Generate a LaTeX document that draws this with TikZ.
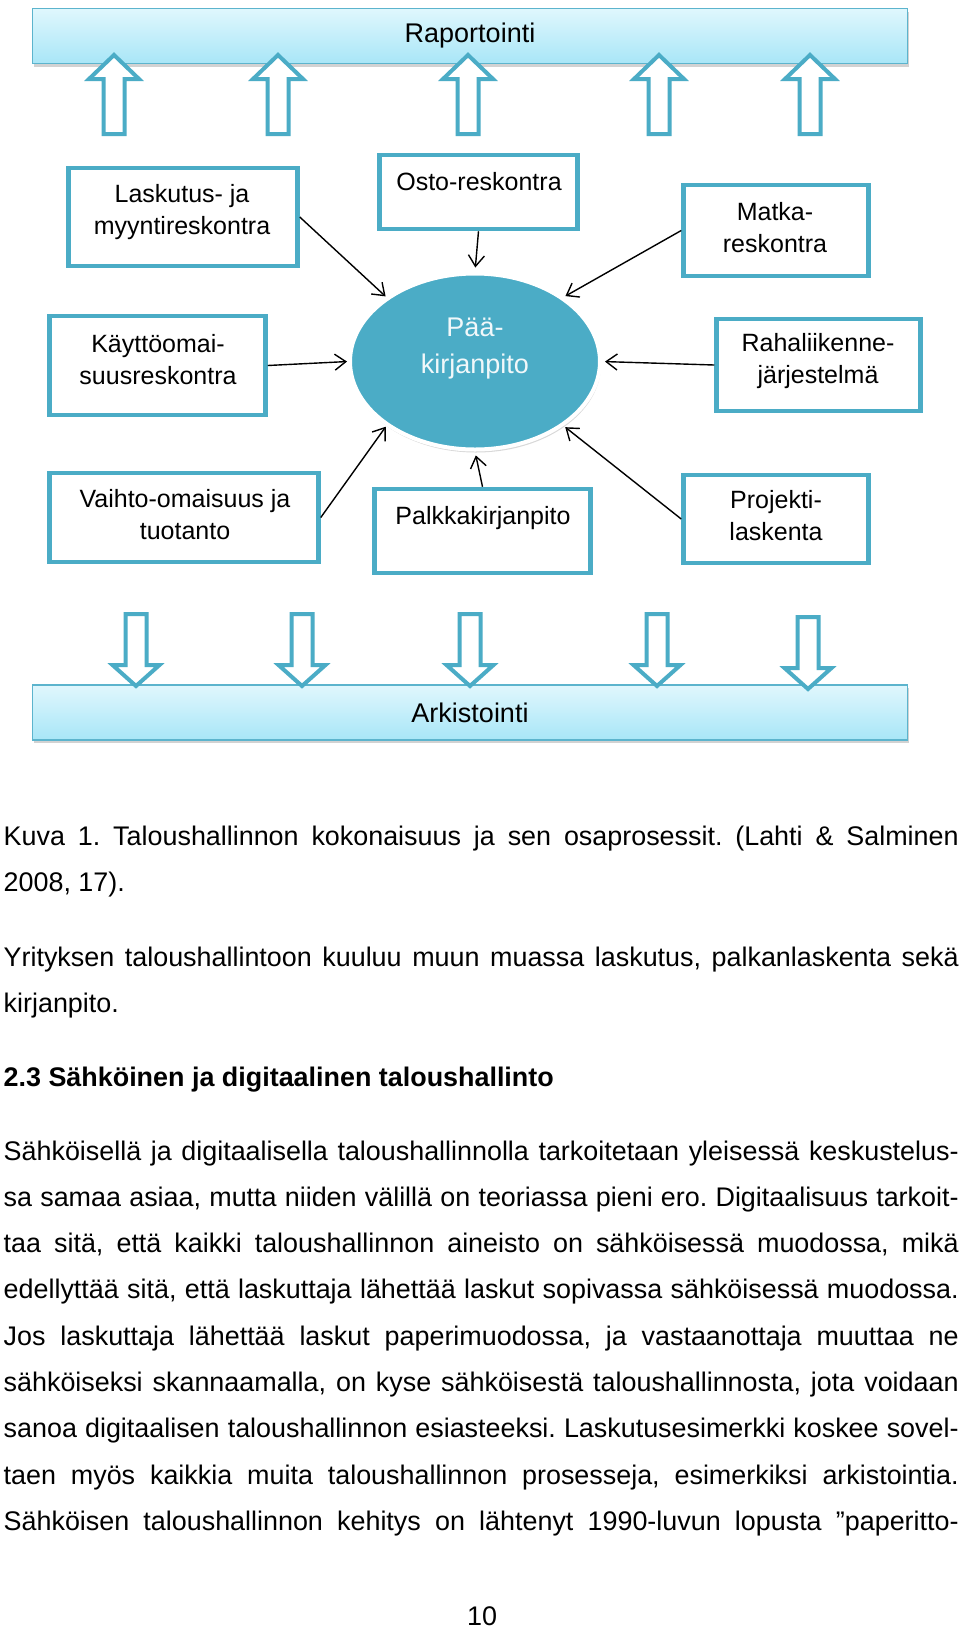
\documentclass[tikz,border=0pt]{standalone}
\usepackage{fontspec}
\setmainfont{Liberation Sans}
\usepackage{tikz}
\usetikzlibrary{shapes,arrows.meta,shadows,positioning}
\frenchspacing

\definecolor{aqua}{RGB}{75,172,198}
\definecolor{bartop}{RGB}{224,247,253}
\definecolor{barbot}{RGB}{168,230,247}
\definecolor{barline}{RGB}{92,180,205}

\begin{document}
\begin{tikzpicture}[x=1pt, y=-1pt, line width=1.4pt,
  >={Straight Barb[length=11pt,width=16pt]},
  box/.style={rectangle, draw=aqua, line width=4.5pt, fill=white},
  boxtext/.style={align=center, font=\fontsize{25}{32}\selectfont},
  bar/.style={rectangle, draw=barline, line width=1.2pt, top color=bartop,
    bottom color=barbot, minimum width=875pt, minimum height=55pt,
    drop shadow={opacity=0.35, shadow xshift=1pt, shadow yshift=-3pt},
    font=\fontsize{27}{32}\selectfont},
  blockarrow/.style={draw=aqua, line width=4pt, fill=white, line join=miter},
  body/.style={anchor=base west, inner sep=0pt, font=\fontsize{26.9}{46}\selectfont}]

\useasboundingbox (0,0) rectangle (960,1631);
\fill[white] (0,0) rectangle (960,1631);

% top and bottom bars
\node [bar] (raport) at (470,36) {Raportointi};
\node [bar] (arkist) at (470,712.5) {Arkistointi};

% arrows up to Raportointi
\draw [blockarrow] (103.5,134) -- ++(0,-55) -- ++(-14.5,0) -- ++(25,-24) -- ++(25,24) -- ++(-14.5,0) -- ++(0,55) -- cycle;
\draw [blockarrow] (267.5,134) -- ++(0,-55) -- ++(-14.5,0) -- ++(25,-24) -- ++(25,24) -- ++(-14.5,0) -- ++(0,55) -- cycle;
\draw [blockarrow] (457.5,134) -- ++(0,-55) -- ++(-14.5,0) -- ++(25,-24) -- ++(25,24) -- ++(-14.5,0) -- ++(0,55) -- cycle;
\draw [blockarrow] (648.5,134) -- ++(0,-55) -- ++(-14.5,0) -- ++(25,-24) -- ++(25,24) -- ++(-14.5,0) -- ++(0,55) -- cycle;
\draw [blockarrow] (799.5,134) -- ++(0,-55) -- ++(-14.5,0) -- ++(25,-24) -- ++(25,24) -- ++(-14.5,0) -- ++(0,55) -- cycle;

% arrows down to Arkistointi
\draw [blockarrow] (125.5,614) -- ++(0,51) -- ++(-13,0) -- ++(23.5,21) -- ++(23.5,-21) -- ++(-13,0) -- ++(0,-51) -- cycle;
\draw [blockarrow] (291.5,614) -- ++(0,51) -- ++(-13,0) -- ++(23.5,21) -- ++(23.5,-21) -- ++(-13,0) -- ++(0,-51) -- cycle;
\draw [blockarrow] (459.5,614) -- ++(0,51) -- ++(-13,0) -- ++(23.5,21) -- ++(23.5,-21) -- ++(-13,0) -- ++(0,-51) -- cycle;
\draw [blockarrow] (646.5,614) -- ++(0,51) -- ++(-13,0) -- ++(23.5,21) -- ++(23.5,-21) -- ++(-13,0) -- ++(0,-51) -- cycle;
\draw [blockarrow] (797.5,617) -- ++(0,51) -- ++(-13,0) -- ++(23.5,21) -- ++(23.5,-21) -- ++(-13,0) -- ++(0,-51) -- cycle;

% main ledger
\node [ellipse, fill=aqua, draw=white, line width=4pt, minimum width=250pt,
  minimum height=176pt, drop shadow={opacity=0.3, shadow xshift=1pt, shadow yshift=-3pt}]
  (pk) at (475,361.5) {};
\node [align=center, text=white!92!aqua, font=\fontsize{27}{37}\selectfont]
  (pk-t) at (475,349) {Pää-\\kirjanpito};

% sub-ledgers
\node [box, minimum width=229pt, minimum height=98pt] (laskutus) at (183,217) {};
\node [boxtext] (laskutus-t) at (182,212) {Laskutus- ja\\myyntireskontra};
\node [box, minimum width=198pt, minimum height=74pt] (osto) at (478.5,192) {};
\node [boxtext] (osto-t) at (479,182) {Osto-reskontra};
\node [box, minimum width=185pt, minimum height=91pt] (matka) at (776,230.5) {};
\node [boxtext] (matka-t) at (775,228) {Matka-\\reskontra};
\node [box, minimum width=216pt, minimum height=99pt] (kaytto) at (157.5,365.5) {};
\node [boxtext] (kaytto-t) at (158,359.5) {Käyttöomai-\\suusreskontra};
\node [box, minimum width=204pt, minimum height=92pt] (raha) at (818.5,365) {};
\node [boxtext] (raha-t) at (818,361) {Rahaliikenne-\\järjestelmä};
\node [box, minimum width=269pt, minimum height=89pt] (vaihto) at (184,517.5) {};
\node [boxtext] (vaihto-t) at (185,514.5) {Vaihto-omaisuus ja\\tuotanto};
\node [box, minimum width=216pt, minimum height=84pt] (palkka) at (482.5,531) {};
\node [boxtext] (palkka-t) at (483,518) {Palkkakirjanpito};
\node [box, minimum width=185pt, minimum height=88pt] (projekti) at (776,519) {};
\node [boxtext] (projekti-t) at (776,516) {Projekti-\\laskenta};

\draw [->, shorten >=1pt] (laskutus.east) -- (pk.144);
\draw [->, shorten >=4pt] (osto.south) -- (pk.north);
\draw [->, shorten >=2pt] (matka.west) -- (pk.36);
\draw [->, shorten >=1pt] (kaytto.east) -- (pk.west);
\draw [->, shorten >=3pt] (raha.west) -- (pk.east);
\draw [->, shorten >=1pt] (vaihto.east) -- (pk.216);
\draw [->, shorten >=4pt] (palkka.north) -- (pk.south);
\draw [->, shorten >=2pt] (projekti.west) -- (pk.324);

% page text
\node [body] (kuva1) at (3,845) {\makebox[955pt][s]{Kuva 1. Taloushallinnon kokonaisuus ja sen osaprosessit. (Lahti \& Salminen}};
\node [body] (kuva2) at (3,891.5) {2008, 17).};
\node [body] (yrit1) at (3,966) {\makebox[955pt][s]{Yrityksen taloushallintoon kuuluu muun muassa laskutus, palkanlaskenta sekä}};
\node [body] (yrit2) at (3,1012) {kirjanpito.};
\node [body] (otsikko) at (3,1086) {\textbf{2.3 Sähköinen ja digitaalinen taloushallinto}};
\node [body] (r1) at (3,1160) {\makebox[955pt][s]{Sähköisellä ja digitaalisella taloushallinnolla tarkoitetaan yleisessä keskustelus-}};
\node [body] (r2) at (3,1206.3) {\makebox[955pt][s]{sa samaa asiaa, mutta niiden välillä on teoriassa pieni ero. Digitaalisuus tarkoit-}};
\node [body] (r3) at (3,1252.6) {\makebox[955pt][s]{taa sitä, että kaikki taloushallinnon aineisto on sähköisessä muodossa, mikä}};
\node [body] (r4) at (3,1298.9) {\makebox[955pt][s]{edellyttää sitä, että laskuttaja lähettää laskut sopivassa sähköisessä muodossa.}};
\node [body] (r5) at (3,1345.2) {\makebox[955pt][s]{Jos laskuttaja lähettää laskut paperimuodossa, ja vastaanottaja muuttaa ne}};
\node [body] (r6) at (3,1391.5) {\makebox[955pt][s]{sähköiseksi skannaamalla, on kyse sähköisestä taloushallinnosta, jota voidaan}};
\node [body] (r7) at (3,1437.8) {\makebox[955pt][s]{sanoa digitaalisen taloushallinnon esiasteeksi. Laskutusesimerkki koskee sovel-}};
\node [body] (r8) at (3,1484.1) {\makebox[955pt][s]{taen myös kaikkia muita taloushallinnon prosesseja, esimerkiksi arkistointia.}};
\node [body] (r9) at (3,1530.4) {\makebox[955pt][s]{Sähköisen taloushallinnon kehitys on lähtenyt 1990-luvun lopusta ”paperitto-}};
\node [body, anchor=base] (sivu) at (482,1625) {10};

\end{tikzpicture}
\end{document}
